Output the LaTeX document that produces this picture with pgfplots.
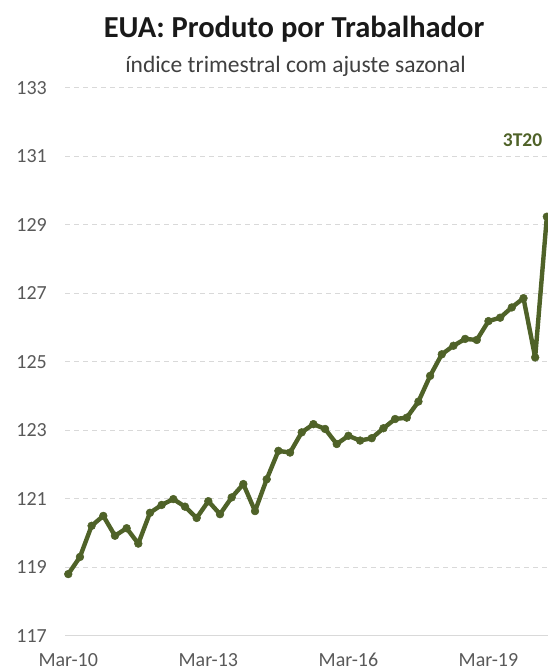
\documentclass[border=0pt]{standalone}
\usepackage{fontspec}
\setmainfont{Carlito}
\usepackage{pgfplots}
\pgfplotsset{compat=1.18}
\definecolor{olivel}{HTML}{4F6228}
\definecolor{gridc}{HTML}{D9D9D9}
\definecolor{tickc}{HTML}{595959}
\begin{document}
\begin{tikzpicture}
\useasboundingbox (-65pt,-35.3pt) rectangle (483pt,635.7pt);
\begin{axis}[
  at={(0,0)}, anchor=south west, scale only axis,
  width=483pt, height=547.7pt,
  xmin=-0.28, xmax=41.1, ymin=117, ymax=133,
  axis line style={draw=none},
  major tick length=0pt,
  ytick={119,121,...,133},
  extra y ticks={117},
  extra y tick style={grid style={solid, gridc, line width=1.2pt}},
  ymajorgrids,
  grid style={gridc, line width=1pt, dash pattern=on 5pt off 4pt},
  xtick={0,12,24,36},
  xticklabels={Mar-10,Mar-13,Mar-16,Mar-19},
  /pgf/number format/assume math mode=true,
  yticklabel style={anchor=base east, inner sep=0pt, xshift=-18pt, yshift=-6.3pt,
    font=\fontsize{20}{22}\selectfont, text=tickc},
  xticklabel style={anchor=base, inner sep=0pt, yshift=-30.5pt,
    font=\fontsize{20}{22}\selectfont, text=tickc},
  clip=false,
]
\addplot[olivel, line width=4.4pt, line join=round, line cap=round, mark=*, mark size=3.9pt,
  mark options={solid, fill=olivel, draw=olivel, line width=0.5pt}] coordinates {
(0,118.80) (1,119.30) (2,120.21) (3,120.50) (4,119.92) (5,120.14)
(6,119.69) (7,120.59) (8,120.82) (9,120.99) (10,120.77) (11,120.44)
(12,120.93) (13,120.55) (14,121.04) (15,121.43) (16,120.64) (17,121.57)
(18,122.40) (19,122.35) (20,122.94) (21,123.18) (22,123.04) (23,122.60)
(24,122.84) (25,122.70) (26,122.77) (27,123.06) (28,123.33) (29,123.37)
(30,123.84) (31,124.59) (32,125.22) (33,125.47) (34,125.67) (35,125.64)
(36,126.19) (37,126.29) (38,126.59) (39,126.86) (40,125.13) (41,129.24)
};
\node[anchor=base, inner sep=0pt, text=olivel, font=\fontsize{19.5}{21}\selectfont\bfseries]
  at (axis cs:38.92,131.29) {3T20};
\end{axis}
\node[anchor=base, inner sep=0pt, text=black!90, font=\fontsize{30.5}{32}\selectfont\bfseries]
  at (229pt,598.4pt) {EUA: Produto por Trabalhador};
\node[anchor=base, inner sep=0pt, text=black!75, font=\fontsize{23.5}{25}\selectfont]
  at (230.5pt,562.7pt) {índice trimestral com ajuste sazonal};
\end{tikzpicture}
\end{document}
